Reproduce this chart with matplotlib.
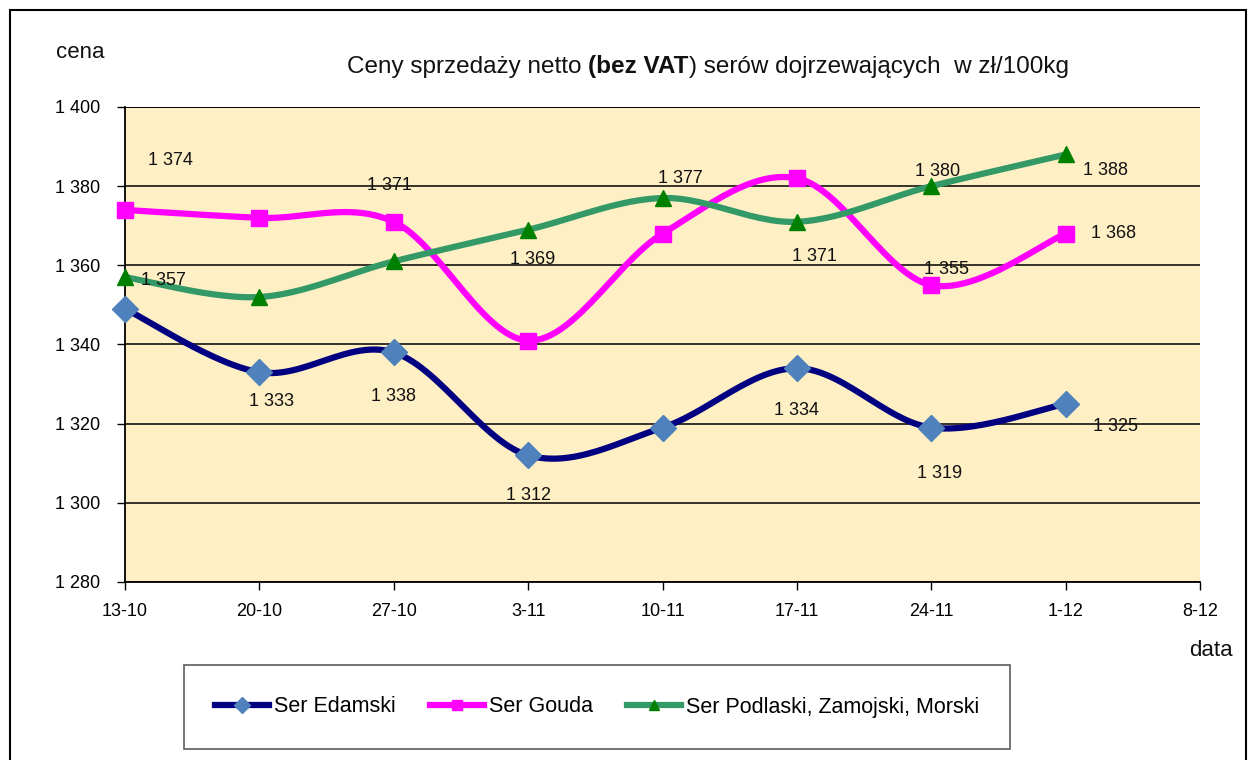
import numpy as np
import matplotlib
matplotlib.use('Agg')
import matplotlib.pyplot as plt
from matplotlib.offsetbox import TextArea, HPacker, AnchoredOffsetbox
from matplotlib.lines import Line2D
from matplotlib.patches import Rectangle

plt.rcParams['font.family'] = ['Liberation Sans', 'DejaVu Sans']

# ---- data ----
dates = ['13-10', '20-10', '27-10', '3-11', '10-11', '17-11', '24-11', '1-12', '8-12']
edamski = [1349, 1333, 1338, 1312, 1319, 1334, 1319, 1325]
gouda = [1374, 1372, 1371, 1341, 1368, 1382, 1355, 1368]
podlaski = [1357, 1352, 1361, 1369, 1377, 1371, 1380, 1388]
series_names = ['Ser Edamski', 'Ser Gouda', 'Ser Podlaski, Zamojski, Morski']
yticks = [1280, 1300, 1320, 1340, 1360, 1380, 1400]

# which points carry a value label
edamski_lab = [False, True, True, True, False, True, True, True]
gouda_lab = [True, False, True, False, False, False, True, True]
podlaski_lab = [True, False, False, True, True, True, True, True]

# label offsets (pixels, style only)
edamski_off = [(0, 0), (12, -29), (0, -44), (0, -40), (0, 0), (0, -42), (8, -46), (50, -23)]
gouda_off = [(45, 49), (0, 0), (-4, 36), (0, 0), (0, 0), (0, 0), (15, 16), (48, 0)]
podlaski_off = [(38, -3), (0, 0), (0, 0), (5, -30), (18, 20), (18, -35), (6, 15), (40, -16)]

# ---- style ----
line_cols = ['#000080', '#FF00FF', '#339966']
mark_cols = ['#4F81BD', '#FF00FF', '#008000']
markers = ['D', 's', '^']
msizes = [13, 11, 11]
bg = '#FFEFC4'
FS = 13


def smooth(y, n=30):
    """Excel-like smoothed line (Catmull-Rom / Bezier) through the points."""
    x = np.arange(len(y), dtype=float)
    y = np.asarray(y, dtype=float)
    P = np.column_stack([x, y])
    out = []
    for i in range(len(P) - 1):
        p0 = P[max(i - 1, 0)]
        p1 = P[i]
        p2 = P[i + 1]
        p3 = P[min(i + 2, len(P) - 1)]
        c1 = p1 + (p2 - p0) / 6.0
        c2 = p2 - (p3 - p1) / 6.0
        t = np.linspace(0, 1, n)[:, None]
        seg = ((1 - t) ** 3) * p1 + 3 * ((1 - t) ** 2) * t * c1 + 3 * (1 - t) * t ** 2 * c2 + t ** 3 * p2
        out.append(seg if i == 0 else seg[1:])
    out = np.vstack(out)
    return out[:, 0], out[:, 1]


fig = plt.figure(figsize=(12.53, 7.6), dpi=100)
W, H = 1253, 760
ax = fig.add_axes([125 / W, 1 - 582 / H, (1200 - 125) / W, (582 - 107) / H])
ax.set_facecolor(bg)

ax.set_xlim(0, len(dates) - 1)
ax.set_ylim(yticks[0], yticks[-1])
ax.set_xticks(range(len(dates)))
ax.set_xticklabels(dates, fontsize=FS)
ax.set_yticks(yticks)
ax.set_yticklabels([f"{v:,}".replace(',', ' ') for v in yticks], fontsize=FS)
ax.tick_params(axis='both', direction='out', length=6, width=1, colors='black')
ax.tick_params(axis='y', pad=12)
ax.tick_params(axis='x', pad=9)
for s in ['top', 'right']:
    ax.spines[s].set_visible(False)
for s in ['left', 'bottom']:
    ax.spines[s].set_linewidth(1.3)
ax.yaxis.grid(True, color='black', linewidth=1.1)
ax.set_axisbelow(True)
ax.axhline(yticks[-1], color='black', linewidth=1.3, zorder=1)

all_series = [edamski, gouda, podlaski]
all_lab = [edamski_lab, gouda_lab, podlaski_lab]
all_off = [edamski_off, gouda_off, podlaski_off]
handles = []
for k, ys in enumerate(all_series):
    xs = np.arange(len(ys))
    sx, sy = smooth(ys)
    ax.plot(sx, sy, color=line_cols[k], linewidth=4.5, solid_capstyle='round', zorder=3)
    ax.plot(xs, ys, linestyle='none', marker=markers[k], markersize=msizes[k],
            markerfacecolor=mark_cols[k], markeredgecolor=mark_cols[k], zorder=4, clip_on=False)
    for i, v in enumerate(ys):
        if all_lab[k][i]:
            ax.annotate(f"{v:,}".replace(',', ' '), (xs[i], v), xytext=all_off[k][i],
                        textcoords='offset pixels', ha='center', va='center', fontsize=FS,
                        color='#111111', zorder=5)
    handles.append(Line2D([], [], color=line_cols[k], linewidth=4.5, marker=markers[k],
                          markersize=msizes[k] * 0.6, markerfacecolor=mark_cols[k],
                          markeredgecolor=mark_cols[k]))

# legend
leg = fig.legend(handles, series_names, loc='center', ncol=3,
                 bbox_to_anchor=(597 / W, 1 - 707 / H), fontsize=15.5, frameon=True,
                 fancybox=False, edgecolor='#333333', handlelength=2.5, handletextpad=0.23,
                 columnspacing=1.6, borderpad=1.45, borderaxespad=0)
leg.get_frame().set_linewidth(1.2)

# title with bold part
parts = [("Ceny sprzedaży netto ", 'normal'), ("(bez VAT", 'bold'),
         (") serów dojrzewających  w zł/100kg", 'normal')]
boxes = [TextArea(t, textprops=dict(fontsize=17.5, fontweight=w, color='#111111')) for t, w in parts]
pack = HPacker(children=boxes, align='baseline', pad=0, sep=0)
anc = AnchoredOffsetbox(loc='center', child=pack, frameon=False,
                        bbox_to_anchor=(708 / W, 1 - 66 / H), bbox_transform=fig.transFigure,
                        borderpad=0, pad=0)
fig.add_artist(anc)

fig.text(80 / W, 1 - 52 / H, 'cena', fontsize=16, ha='center', va='center', color='#111111')
fig.text(1211 / W, 1 - 651 / H, 'data', fontsize=16, ha='center', va='center', color='#111111')

# outer border
fig.add_artist(Rectangle((10 / W, -0.05), (1246 - 10) / W, 1.05 - 10 / H, transform=fig.transFigure,
                         fill=False, edgecolor='black', linewidth=1.5))

fig.savefig('out.png', dpi=100)
